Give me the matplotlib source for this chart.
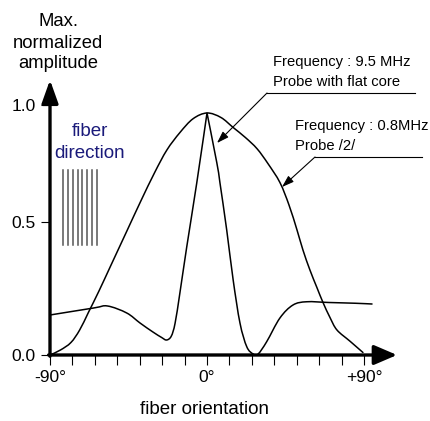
import matplotlib
matplotlib.use("Agg")
import matplotlib.pyplot as plt
from matplotlib.path import Path
from matplotlib.patches import PathPatch
import numpy as np

plt.rcParams['font.family'] = ['Liberation Sans', 'DejaVu Sans']

# ---- data ----
wide_x = [-90, -84, -78, -73, -68, -62, -55, -46, -38, -30, -23, -15.5, -8, 0,
          8, 15, 22, 28.7, 35, 41.8, 47, 51.6, 55, 59, 63, 66.5, 70.5, 74.5, 82, 89.4]
wide_y = [0.0, 0.02, 0.05, 0.10, 0.17, 0.255, 0.36, 0.495, 0.615, 0.73, 0.82, 0.89, 0.945, 0.968,
          0.95, 0.91, 0.87, 0.825, 0.765, 0.69, 0.60, 0.50, 0.42, 0.34, 0.27, 0.21, 0.15, 0.10, 0.055, 0.01]

narrow_x = [-90, -65, -57, -46, -38.4, -31, -26, -23.2, -20.5, -18.3, -15.5, -11.6, -5.9, 0,
            5.6, 7.4, 11.3, 15, 18.9, 22.8, 26.5, 29.3, 34.2, 41.8, 49.3, 57.2, 70, 85, 94.6]
narrow_y = [0.16, 0.188, 0.196, 0.168, 0.128, 0.092, 0.07, 0.06, 0.075, 0.127, 0.25, 0.433, 0.687, 0.968,
            0.77, 0.69, 0.50, 0.30, 0.128, 0.033, 0.004, 0.004, 0.053, 0.148, 0.20, 0.213, 0.21, 0.207, 0.204]
narrow_corners = [0.0]

x_ticks = list(np.linspace(-90, 90, 15))
x_label_pos = [-90, 0, 90]
x_label_txt = ['-90°', '0°', '+90°']
y_tick_pos = [0.0, 0.532, 1.0]
y_tick_txt = ['0.0', '0.5', '1.0']

label_95 = ['Frequency : 9.5 MHz', 'Probe with flat core']
label_08 = ['Frequency : 0.8MHz', 'Probe /2/']

W, H = 430, 421
fig = plt.figure(figsize=(W / 100, H / 100), dpi=100)

def px(x, y):
    return (x / W, 1 - y / H)

# axes mapping: x=-90 -> px 50, 0 -> px 207 ; y=0 -> px 355, 1 -> px 105
x0p, xscale, yscale = 207, 157 / 90, 250
xmin, xmax = -90, (397 - 207) / xscale
ymin, ymax = 0, (355 - 80) / yscale
left = (207 + xmin * xscale) / W
right = (207 + xmax * xscale) / W
bottom = 1 - 355 / H
top = 1 - 80 / H
ax = fig.add_axes([left, bottom, right - left, top - bottom])
ax.set_xlim(xmin, xmax)
ax.set_ylim(ymin, ymax)
for s in ax.spines.values():
    s.set_visible(False)
ax.patch.set_alpha(0)

# axis arrows
ax.annotate('', xy=(xmax, 0), xytext=(xmin - 0.8, 0), xycoords='data',
            arrowprops=dict(arrowstyle='-|>,head_length=0.7,head_width=0.3', lw=2.4,
                            color='black', mutation_scale=20, shrinkA=0, shrinkB=0),
            annotation_clip=False)
ax.annotate('', xy=(xmin, ymax), xytext=(xmin, -0.005), xycoords='data',
            arrowprops=dict(arrowstyle='-|>,head_length=0.7,head_width=0.25', lw=2.4,
                            color='black', mutation_scale=20, shrinkA=0, shrinkB=0),
            annotation_clip=False)

# ticks
ax.set_xticks(x_ticks)
labels = []
for t in x_ticks:
    r = int(round(t))
    labels.append(x_label_txt[x_label_pos.index(r)] if (abs(t - r) < 1e-6 and r in x_label_pos) else '')
ax.set_xticklabels(labels)
ax.set_yticks(y_tick_pos)
ax.set_yticklabels(y_tick_txt)
ax.tick_params(axis='x', direction='out', length=7.5, width=0.8, pad=3, labelsize=12.5)
ax.tick_params(axis='y', direction='out', length=6.5, width=0.8, pad=4, labelsize=12.5)


def smooth_curve(xs, ys, corners=()):
    """Catmull-Rom drawn through the given points as cubic Bezier segments."""
    P = np.column_stack([np.asarray(xs, float) * xscale, np.asarray(ys, float) * yscale])
    n = len(P)
    is_corner = [any(abs(x - c) < 1e-9 for c in corners) for x in xs]
    verts = [P[0]]
    codes = [Path.MOVETO]
    for i in range(n - 1):
        p0 = P[i - 1] if i > 0 else P[i]
        p1, p2 = P[i], P[i + 1]
        p3 = P[i + 2] if i + 2 < n else P[i + 1]
        c1 = p1 if is_corner[i] else p1 + (p2 - p0) / 6
        c2 = p2 if is_corner[i + 1] else p2 - (p3 - p1) / 6
        verts += [c1, c2, p2]
        codes += [Path.CURVE4] * 3
    V = np.array(verts)
    V[:, 0] /= xscale
    V[:, 1] /= yscale
    return PathPatch(Path(V, codes), fill=False, edgecolor='black', lw=1.1,
                     joinstyle='round', capstyle='round', clip_on=False)

ax.add_patch(smooth_curve(wide_x, wide_y))
ax.add_patch(smooth_curve(narrow_x, narrow_y, narrow_corners))

# fiber direction lines
for xp in np.linspace(63.3, 96.7, 8):
    fig.add_artist(plt.Line2D([xp / W, xp / W], [1 - 170 / H, 1 - 245 / H], color='#555555', lw=1.1))
fig.text(*px(90, 132), 'fiber', ha='center', va='center', fontsize=13.5, color='#1a1a7a')
fig.text(*px(90, 154), 'direction', ha='center', va='center', fontsize=13.5, color='#1a1a7a')

# y title
for txt, yy in zip(['Max.', 'normalized', 'amplitude'], [22, 43, 63]):
    fig.text(*px(58, yy), txt, ha='center', va='center', fontsize=13.3)

# x title
fig.text(*px(205, 409), 'fiber orientation', ha='center', va='center', fontsize=13.5)

def to_data(xp, yp):
    return ((xp - x0p) / xscale, (355 - yp) / yscale)

# annotation 9.5 MHz
fig.text(*px(273, 62), label_95[0], ha='left', va='center', fontsize=10.6)
fig.text(*px(273, 82), label_95[1], ha='left', va='center', fontsize=10.6)
fig.add_artist(plt.Line2D([267 / W, 415 / W], [1 - 93 / H, 1 - 93 / H], color='black', lw=0.8))
ax.annotate('', xy=to_data(217, 143), xytext=to_data(267, 93),
            arrowprops=dict(arrowstyle='-|>,head_length=0.6,head_width=0.2', lw=0.8,
                            color='black', mutation_scale=12, shrinkA=0, shrinkB=0),
            annotation_clip=False)

# annotation 0.8 MHz
fig.text(*px(295, 126), label_08[0], ha='left', va='center', fontsize=10.6)
fig.text(*px(295, 146), label_08[1], ha='left', va='center', fontsize=10.6)
fig.add_artist(plt.Line2D([315 / W, 422 / W], [1 - 157 / H, 1 - 157 / H], color='black', lw=0.8))
ax.annotate('', xy=to_data(282, 187), xytext=to_data(315, 157),
            arrowprops=dict(arrowstyle='-|>,head_length=0.6,head_width=0.2', lw=0.8,
                            color='black', mutation_scale=12, shrinkA=0, shrinkB=0),
            annotation_clip=False)

fig.savefig('out.png', dpi=100)
